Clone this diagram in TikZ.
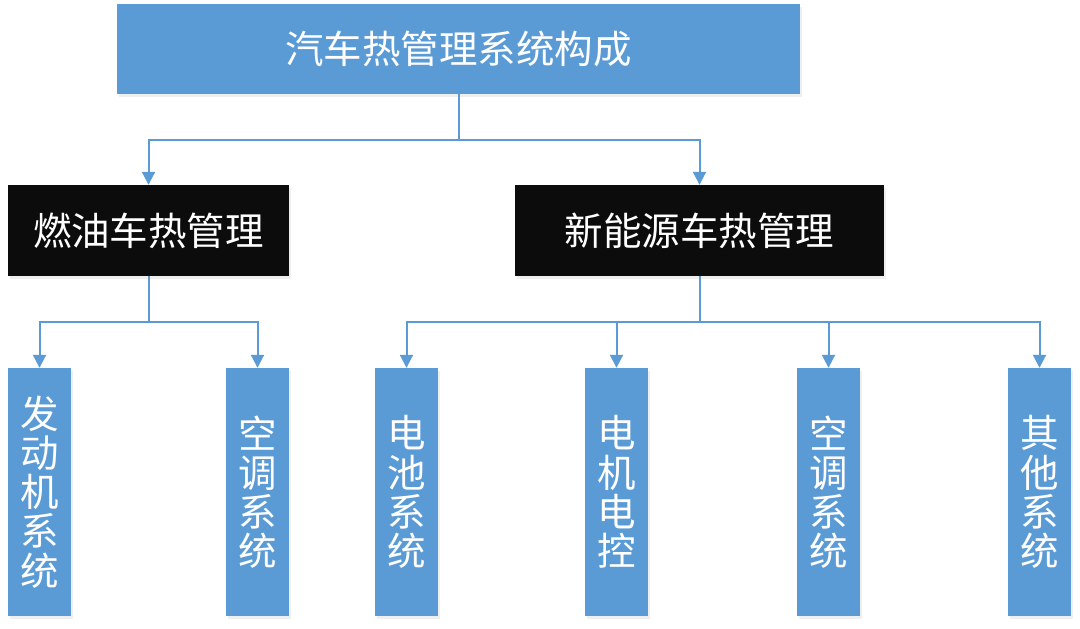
\documentclass[tikz,border=0pt]{standalone}
\usepackage{fontspec}
\newfontfamily\cjk{Noto Sans CJK SC}
\usetikzlibrary{arrows.meta,shadows}
\definecolor{boxblue}{HTML}{5B9BD5}
\definecolor{boxblack}{HTML}{0C0C0C}
\tikzset{
  base/.style={rectangle, inner sep=0pt, text=white, font=\cjk\fontsize{38.5}{39.2}\selectfont, align=center,
    drop shadow={opacity=0.12, shadow xshift=1.5pt, shadow yshift=-2.5pt}},
  bluebox/.style={base, fill=boxblue},
  blackbox/.style={base, fill=boxblack},
  subbox/.style={bluebox, minimum width=63pt, minimum height=248pt},
  conn/.style={draw=boxblue, line width=2pt, -{Triangle[width=13pt,length=13pt]}}
}
\begin{document}
\begin{tikzpicture}[x=1pt,y=-1pt]
\useasboundingbox (0,0) rectangle (1080,629);
\fill[white] (0,0) rectangle (1080,629);
\node[bluebox, minimum width=683pt, minimum height=90pt] (top) at (458.5,49) {汽车热管理系统构成};
\node[blackbox, minimum width=281pt, minimum height=91pt] (fuel) at (148.5,230.5) {燃油车热管理};
\node[blackbox, minimum width=369pt, minimum height=91pt] (nev) at (699.5,230.5) {新能源车热管理};
\node[subbox] (s1) at (39.5,492) {发\\动\\机\\系\\统};
\node[subbox] (s2) at (257.5,492) {空\\调\\系\\统};
\node[subbox] (s3) at (406.5,492) {电\\池\\系\\统};
\node[subbox] (s4) at (616.5,492) {电\\机\\电\\控};
\node[subbox] (s5) at (828.5,492) {空\\调\\系\\统};
\node[subbox] (s6) at (1039.5,492) {其\\他\\系\\统};
\draw[conn] (top.south) -- ++(0,46) -| (fuel.north);
\draw[conn] (top.south) -- ++(0,46) -| (nev.north);
\draw[conn] (fuel.south) -- ++(0,46) -| (s1.north);
\draw[conn] (fuel.south) -- ++(0,46) -| (s2.north);
\draw[conn] (nev.south) -- ++(0,46) -| (s3.north);
\draw[conn] (nev.south) -- ++(0,46) -| (s4.north);
\draw[conn] (nev.south) -- ++(0,46) -| (s5.north);
\draw[conn] (nev.south) -- ++(0,46) -| (s6.north);
\end{tikzpicture}
\end{document}
